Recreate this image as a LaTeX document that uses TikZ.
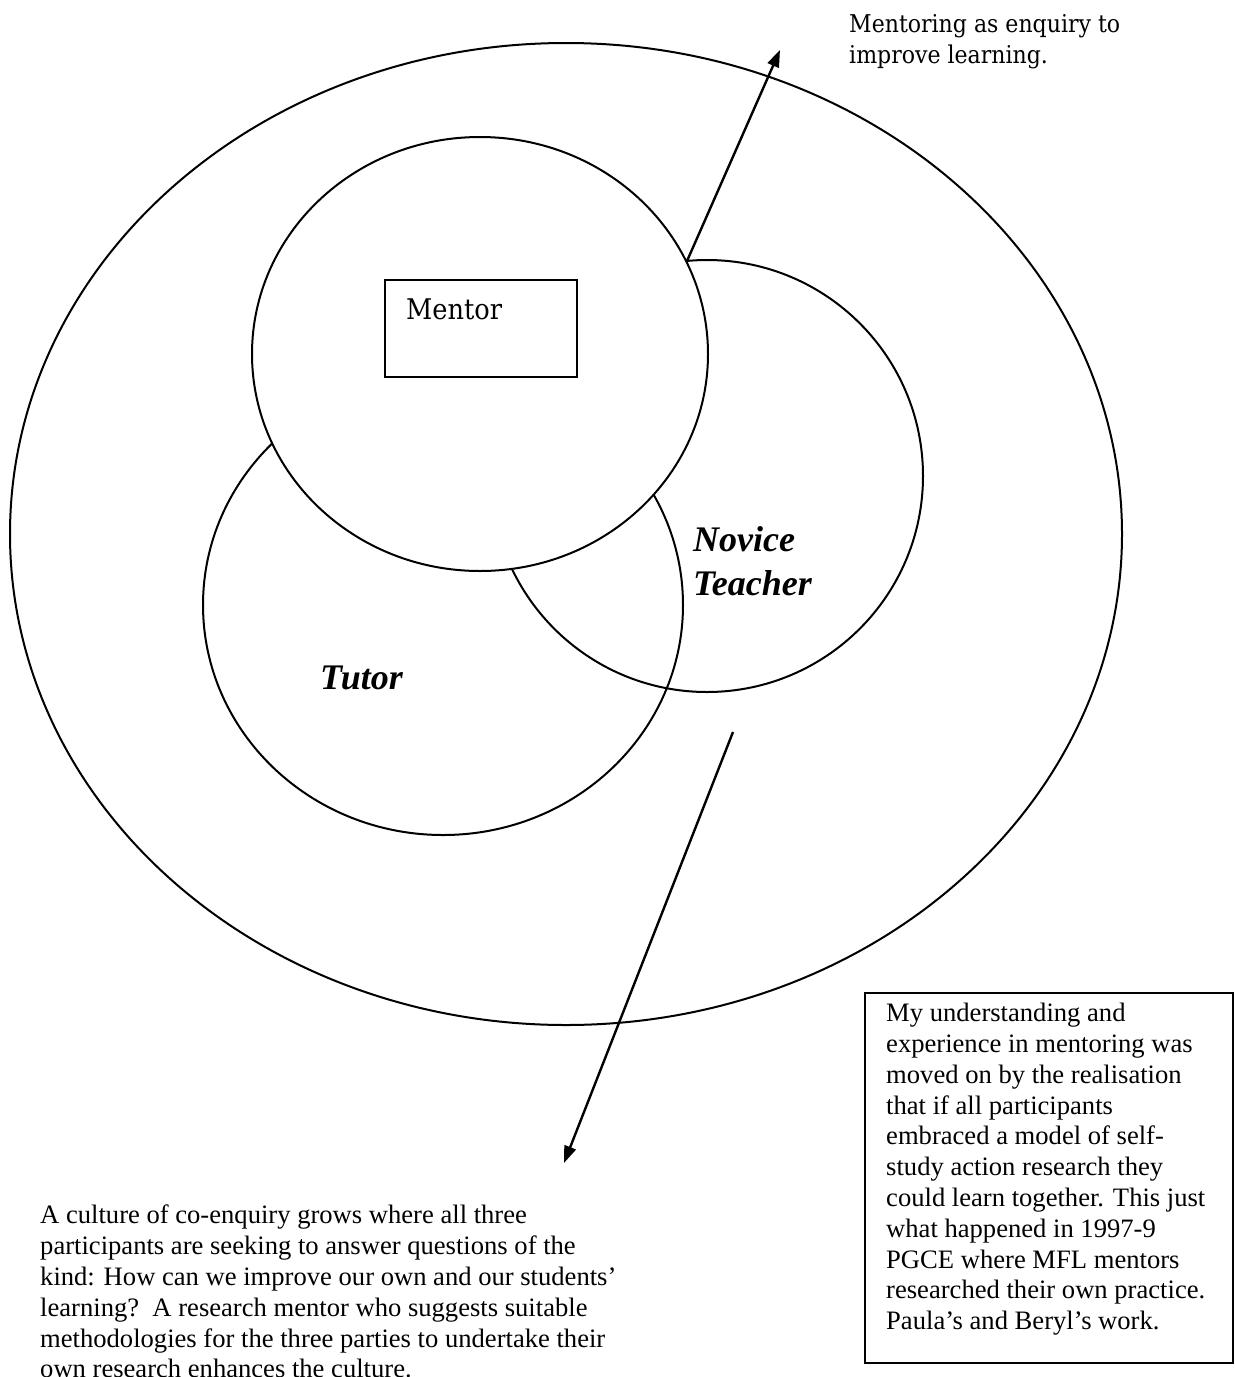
\documentclass[tikz,border=0pt]{standalone}
\usepackage{fontspec}
\setmainfont{Liberation Serif}
\newfontfamily\camfont{DejaVu Serif Condensed}
\usetikzlibrary{arrows.meta,shapes.geometric}
\begin{document}
\begin{tikzpicture}[x=1pt,y=-1pt,
  ring/.style={draw=black, line width=2pt, ellipse, inner sep=0pt, outer sep=0pt},
  ptr/.style={line width=2.4pt, -{Triangle[length=17pt,width=12pt]}},
  note/.style={inner sep=0pt, anchor=north west, align=left,
               font=\fontsize{26.6}{30.8}\selectfont},
  camtext/.style={inner sep=0pt, anchor=north west, align=left,
               font=\camfont\fontsize{24.5}{31}\selectfont},
  role/.style={inner sep=0pt, anchor=north west, align=left,
               font=\fontsize{36}{44}\selectfont\bfseries\itshape},
]
\useasboundingbox (0,0) rectangle (1235,1377);
\fill[white] (0,0) rectangle (1235,1377);

% outer community ellipse
\node[ring, minimum width=1112pt, minimum height=982pt] (outer) at (566,534) {};

% the three participants
\node[ring, minimum width=480pt, minimum height=460pt] (tutor) at (443,605) {};
\node[ring, minimum width=432pt, minimum height=432pt] (novice) at (707,476) {};
\node[ring, fill=white, minimum width=456pt, minimum height=434pt] (mentor) at (480,354) {};

% mentor label box
\draw[line width=2.4pt] (385,280) rectangle (577,377);
\node[camtext, font=\camfont\fontsize{28.5}{34}\selectfont] (mentorlbl) at (406,299) {Mentor};

% role labels
\node[role] (novicelbl) at (693,526) {Novice\\Teacher};
\node[role] (tutorlbl) at (320,666) {Tutor};

% annotations
\node[camtext] (enquiry) at (849,14) {Mentoring as enquiry to\\improve learning.};

\node[note] (culture) at (40,1205) {A culture of co-enquiry grows where all three\\
participants are seeking to answer questions of the\\
kind: How can we improve our own and our students'\\
learning?\ \ A research mentor who suggests suitable\\
methodologies for the three parties to undertake their\\
own research enhances the culture.};

\draw[line width=2.4pt] (865,993) -- (1233,993) -- (1233,1363) -- (865,1363) -- cycle;
\node[note] (story) at (886,1003) {My understanding and\\
experience in mentoring was\\
moved on by the realisation\\
that if all participants\\
embraced a model of self-\\
study action research they\\
could learn together. This just\\
what happened in 1997-9\\
PGCE where MFL mentors\\
researched their own practice.\\
Paula's and Beryl's work.};

% arrows
\coordinate (junction) at (687,261);
\coordinate (uptip) at (780,50);
\draw[ptr] (junction) -- (uptip);

\coordinate (downtail) at (733,732);
\coordinate (downtip) at (564,1163);
\draw[ptr] (downtail) -- (downtip);
\end{tikzpicture}
\end{document}
